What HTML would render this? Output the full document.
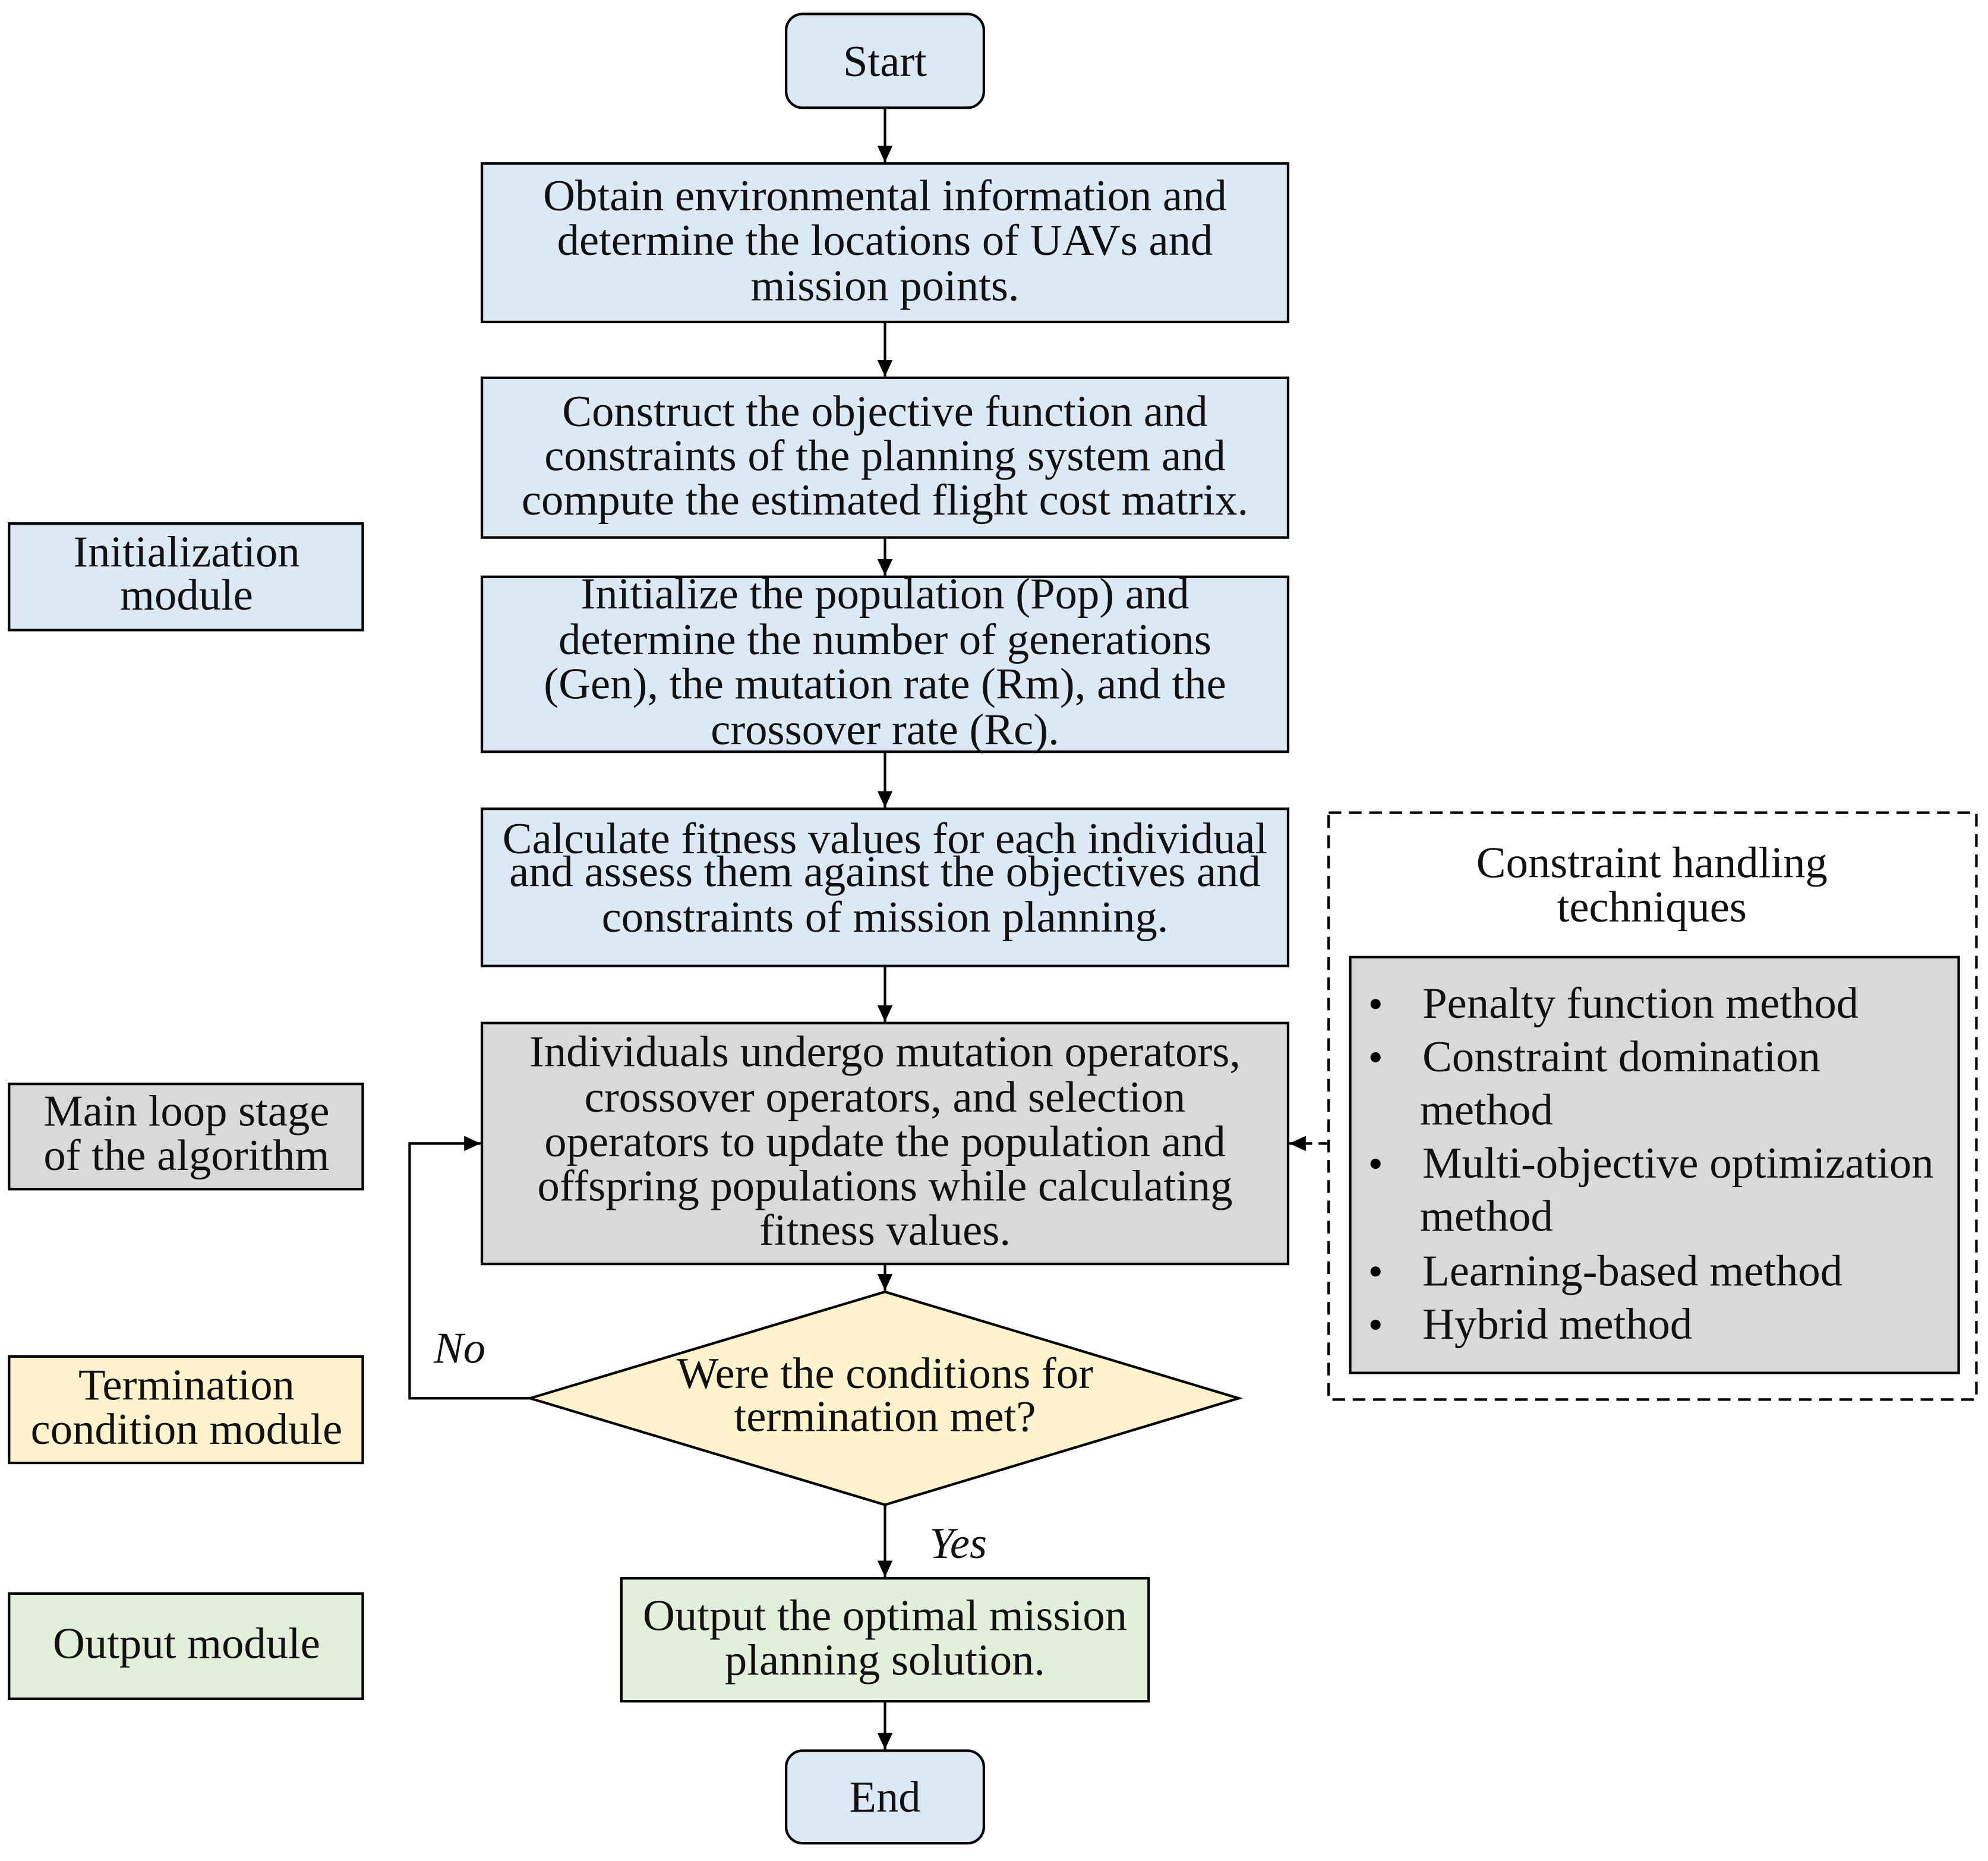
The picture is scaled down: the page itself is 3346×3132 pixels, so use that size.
<!DOCTYPE html>
<html><head><meta charset="utf-8"><style>
html,body{margin:0;padding:0;background:#fff;}
svg{display:block;}
text{font-family:"Liberation Serif",serif;font-size:35px;fill:#111;}
</style></head><body>
<svg width="3346" height="3132" viewBox="0 0 1568 1468" xmlns="http://www.w3.org/2000/svg">
<defs>
<marker id="b" markerWidth="14" markerHeight="14" refX="13" refY="7" orient="auto" markerUnits="userSpaceOnUse">
<path d="M0,1 L13,7 L0,13 Z" fill="#000"/></marker>
</defs>
<g stroke="#000" stroke-width="2">
<rect x="620" y="11" width="156" height="74" rx="13" fill="#dde8f5"/>
<rect x="380" y="129" width="636" height="125" fill="#dde8f5"/>
<rect x="380" y="298" width="636" height="126" fill="#dde8f5"/>
<rect x="380" y="455" width="636" height="138" fill="#dde8f5"/>
<rect x="380" y="638" width="636" height="124" fill="#dde8f5"/>
<rect x="380" y="807" width="636" height="190" fill="#d9d9d9"/>
<polygon points="698,1019 977,1103 698,1187 418,1103" fill="#fff2cc"/>
<rect x="490" y="1245" width="416" height="97" fill="#e2efda"/>
<rect x="620" y="1381" width="156" height="73" rx="13" fill="#dde8f5"/>
<rect x="7" y="413" width="279" height="84" fill="#dde8f5"/>
<rect x="7" y="855" width="279" height="83" fill="#d9d9d9"/>
<rect x="7" y="1070" width="279" height="84" fill="#fff2cc"/>
<rect x="7" y="1257" width="279" height="83" fill="#e2efda"/>
<rect x="1048" y="641" width="511" height="463" fill="none" stroke-dasharray="10,6"/>
<rect x="1065" y="755" width="480" height="328" fill="#d9d9d9"/>
<g fill="none">
<line x1="698" y1="85" x2="698" y2="128" marker-end="url(#b)"/>
<line x1="698" y1="254" x2="698" y2="297" marker-end="url(#b)"/>
<line x1="698" y1="424" x2="698" y2="454" marker-end="url(#b)"/>
<line x1="698" y1="593" x2="698" y2="637" marker-end="url(#b)"/>
<line x1="698" y1="762" x2="698" y2="806" marker-end="url(#b)"/>
<line x1="698" y1="997" x2="698" y2="1018" marker-end="url(#b)"/>
<line x1="698" y1="1187" x2="698" y2="1244" marker-end="url(#b)"/>
<line x1="698" y1="1342" x2="698" y2="1380" marker-end="url(#b)"/>
<polyline points="418,1103 323,1103 323,902 379,902" marker-end="url(#b)"/>
<line x1="1048" y1="902" x2="1017" y2="902" stroke-dasharray="8,5" marker-end="url(#b)"/>
</g>
</g>
<g text-anchor="middle">
<text x="698" y="60">Start</text>
<text x="698" y="166">Obtain environmental information and</text>
<text x="698" y="201">determine the locations of UAVs and</text>
<text x="698" y="237">mission points.</text>
<text x="698" y="336">Construct the objective function and</text>
<text x="698" y="371">constraints of the planning system and</text>
<text x="698" y="406">compute the estimated flight cost matrix.</text>
<text x="698" y="480">Initialize the population (Pop) and</text>
<text x="698" y="516">determine the number of generations</text>
<text x="698" y="551">(Gen), the mutation rate (Rm), and the</text>
<text x="698" y="587">crossover rate (Rc).</text>
<text x="698" y="673">Calculate fitness values for each individual</text>
<text x="698" y="699">and assess them against the objectives and</text>
<text x="698" y="735">constraints of mission planning.</text>
<text x="698" y="841">Individuals undergo mutation operators,</text>
<text x="698" y="877">crossover operators, and selection</text>
<text x="698" y="912">operators to update the population and</text>
<text x="698" y="947">offspring populations while calculating</text>
<text x="698" y="982">fitness values.</text>
<text x="698" y="1095">Were the conditions for</text>
<text x="698" y="1129">termination met?</text>
<text x="698" y="1286">Output the optimal mission</text>
<text x="698" y="1321">planning solution.</text>
<text x="698" y="1429">End</text>
<text x="147" y="447">Initialization</text>
<text x="147" y="481">module</text>
<text x="147" y="888">Main loop stage</text>
<text x="147" y="923">of the algorithm</text>
<text x="147" y="1104">Termination</text>
<text x="147" y="1139">condition module</text>
<text x="147" y="1308">Output module</text>
<text x="1303" y="692">Constraint handling</text>
<text x="1303" y="727">techniques</text>
</g>
<text x="342" y="1075" font-style="italic">No</text>
<text x="733" y="1229" font-style="italic">Yes</text>
<g>
<circle cx="1085" cy="792" r="4" fill="#000"/>
<circle cx="1085" cy="834" r="4" fill="#000"/>
<circle cx="1085" cy="918" r="4" fill="#000"/>
<circle cx="1085" cy="1003" r="4" fill="#000"/>
<circle cx="1085" cy="1045" r="4" fill="#000"/>
<text x="1122" y="803">Penalty function method</text>
<text x="1122" y="845">Constraint domination</text>
<text x="1120" y="887">method</text>
<text x="1122" y="929">Multi-objective optimization</text>
<text x="1120" y="971">method</text>
<text x="1122" y="1014">Learning-based method</text>
<text x="1122" y="1056">Hybrid method</text>
</g>
</svg>
</body></html>
